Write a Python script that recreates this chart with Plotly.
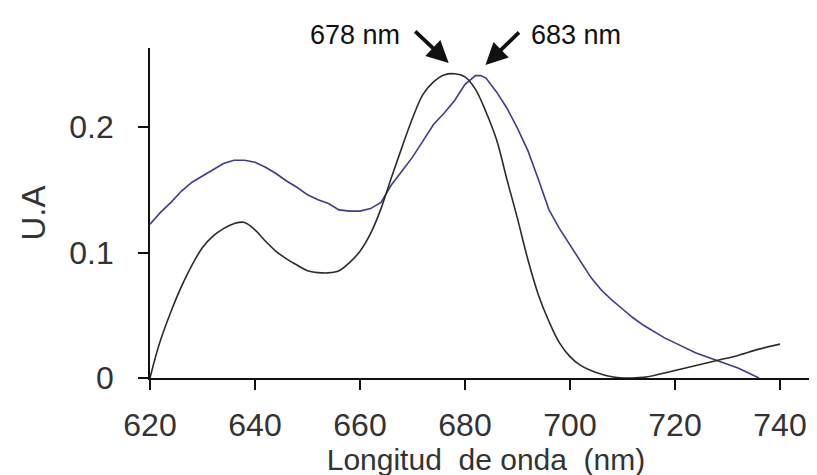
import plotly.graph_objects as go

# Black spectrum (peak 678 nm)
black_nm = [620, 621, 622, 624, 626, 628, 630, 632, 634, 636, 638, 640, 642, 644, 646, 648,
            650, 652, 654, 656, 658, 660, 662, 664, 666, 668, 670, 672, 674, 676, 678, 680,
            682, 684, 686, 688, 690, 692, 694, 696, 698, 700, 702, 704, 706, 708, 710, 712,
            714, 716, 718, 720, 724, 728, 732, 736, 740]
black_ua = [0.0, 0.016, 0.030, 0.053, 0.073, 0.090, 0.104, 0.113, 0.119, 0.123, 0.124, 0.118,
            0.109, 0.101, 0.095, 0.090, 0.0855, 0.084, 0.0838, 0.0855, 0.092, 0.101, 0.115,
            0.135, 0.160, 0.184, 0.207, 0.226, 0.236, 0.2415, 0.2425, 0.240, 0.230, 0.212,
            0.190, 0.158, 0.127, 0.094, 0.066, 0.045, 0.028, 0.017, 0.010, 0.006, 0.003,
            0.001, 0.0, 0.0, 0.0005, 0.002, 0.004, 0.006, 0.010, 0.014, 0.018, 0.023, 0.027]

# Blue spectrum (peak 683 nm)
blue_nm = [620, 622, 624, 626, 628, 630, 632, 634, 636, 638, 640, 642, 644, 646, 648, 650,
           652, 654, 656, 658, 660, 662, 664, 666, 668, 670, 672, 674, 676, 678, 680, 682,
           683, 684, 686, 688, 690, 692, 694, 696, 698, 700, 702, 704, 706, 708, 710, 712,
           714, 716, 718, 720, 722, 724, 726, 728, 730, 732, 734, 736]
blue_ua = [0.1225, 0.132, 0.140, 0.149, 0.156, 0.161, 0.166, 0.171, 0.1735, 0.1735, 0.172,
           0.168, 0.163, 0.157, 0.152, 0.146, 0.142, 0.139, 0.134, 0.133, 0.133, 0.135,
           0.140, 0.154, 0.165, 0.176, 0.189, 0.202, 0.211, 0.221, 0.234, 0.241, 0.241,
           0.239, 0.228, 0.215, 0.199, 0.181, 0.158, 0.134, 0.119, 0.106, 0.093, 0.080,
           0.070, 0.062, 0.055, 0.048, 0.042, 0.037, 0.032, 0.028, 0.024, 0.020, 0.017,
           0.014, 0.011, 0.008, 0.004, 0.0]

x_ticks = [620, 640, 660, 680, 700, 720, 740]
y_ticks = [0, 0.1, 0.2]
y_tick_text = ["0", "0.1", "0.2"]

peak_labels = ["678 nm", "683 nm"]
peak_label_x = [659.1, 701.2]
peak_arrow_x = [676.9, 683.9]
peak_arrow_y = [0.251, 0.2495]

FONT = "Arial, Liberation Sans, sans-serif"

fig = go.Figure()
fig.add_trace(go.Scatter(x=blue_nm, y=blue_ua, mode="lines",
                         line=dict(color="#3c3c8e", width=1.6), showlegend=False))
fig.add_trace(go.Scatter(x=black_nm, y=black_ua, mode="lines", line_shape="spline",
                         line=dict(color="#2b2b2b", width=1.6), showlegend=False))

# arrows
for hx, hy, dx, dy in zip(peak_arrow_x, peak_arrow_y, [-35, 35], [-33, -34]):
    fig.add_annotation(x=hx, y=hy, xref="x", yref="y", text="", showarrow=True,
                       ax=dx, ay=dy, arrowhead=2, arrowsize=1.15, arrowwidth=3.8,
                       arrowcolor="#111111")
# labels
for lx, txt in zip(peak_label_x, peak_labels):
    fig.add_annotation(x=lx, y=1.039, xref="x", yref="paper", text=txt, showarrow=False,
                       yanchor="middle", font=dict(family=FONT, size=27, color="#111111"))

fig.update_layout(
    width=817, height=475,
    margin=dict(l=142, r=3, t=40, b=105),
    paper_bgcolor="white", plot_bgcolor="white",
    font=dict(family=FONT, size=32, color="#333333"),
)
fig.update_xaxes(range=[620, 748], tickvals=x_ticks, ticks="outside", ticklen=10,
                 tickwidth=1.5, tickcolor="#111111", showline=True, linecolor="#111111",
                 linewidth=1.8, showgrid=False, zeroline=False, ticklabelstandoff=8,
                 tickfont=dict(size=32, color="#333333"),
                 title=dict(text="Longitud  de onda  (nm)", font=dict(size=30, color="#333333"),
                            standoff=4))
fig.update_yaxes(range=[0, 0.263], tickvals=y_ticks, ticktext=y_tick_text, ticks="outside",
                 ticklen=10, tickwidth=1.5, tickcolor="#111111", showline=True,
                 linecolor="#111111", linewidth=1.8, showgrid=False, zeroline=False,
                 ticklabelstandoff=18, tickfont=dict(size=32, color="#333333"),
                 title=dict(text="U.A", font=dict(size=33, color="#333333"), standoff=14))

fig.write_html("out.html")
